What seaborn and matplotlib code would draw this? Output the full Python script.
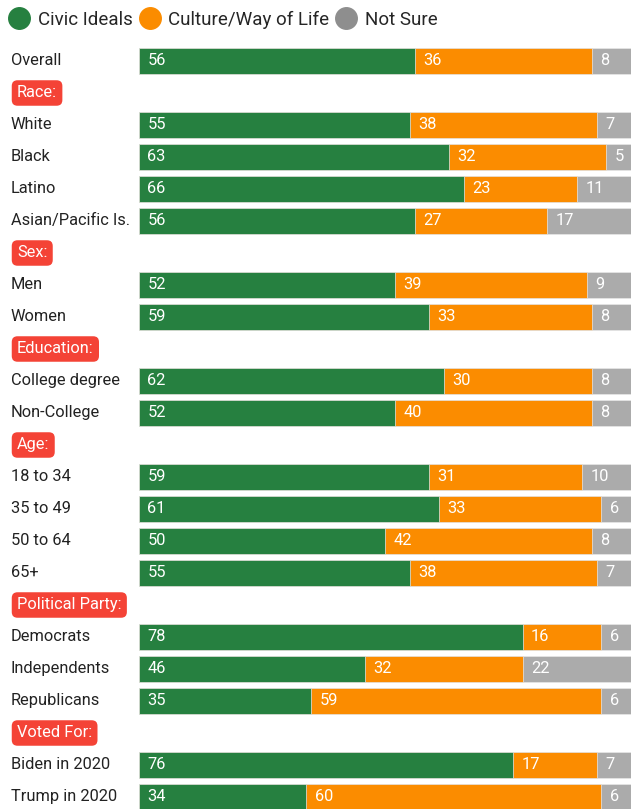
import matplotlib
matplotlib.use("Agg")
import matplotlib.pyplot as plt
import matplotlib.transforms as mtransforms
from matplotlib.lines import Line2D
import seaborn as sns
import pandas as pd
import numpy as np

sns.set_theme(style="white")
plt.rcParams['font.family'] = ['Roboto', 'DejaVu Sans']

rows = ["Overall", "Race:", "White", "Black", "Latino", "Asian/Pacific Is.",
        "Sex:", "Men", "Women", "Education:", "College degree", "Non-College",
        "Age:", "18 to 34", "35 to 49", "50 to 64", "65+",
        "Political Party:", "Democrats", "Independents", "Republicans",
        "Voted For:", "Biden in 2020", "Trump in 2020"]
headers = ["Race:", "Sex:", "Education:", "Age:", "Political Party:", "Voted For:"]

groups = ["Overall", "White", "Black", "Latino", "Asian/Pacific Is.", "Men", "Women",
          "College degree", "Non-College", "18 to 34", "35 to 49", "50 to 64", "65+",
          "Democrats", "Independents", "Republicans", "Biden in 2020", "Trump in 2020"]
civic = [56, 55, 63, 66, 56, 52, 59, 62, 52, 59, 61, 50, 55, 78, 46, 35, 76, 34]
culture = [36, 38, 32, 23, 27, 39, 33, 30, 40, 31, 33, 42, 38, 16, 32, 59, 17, 60]
not_sure = [8, 7, 5, 11, 17, 9, 8, 8, 8, 10, 6, 8, 7, 6, 22, 6, 7, 6]

series = ["Civic Ideals", "Culture/Way of Life", "Not Sure"]
colors = ["#268040", "#FB8C00", "#ABABAB"]
legend_colors = ["#268040", "#FB8C00", "#8E8E8E"]

df = pd.DataFrame({"group": groups, "civic": civic, "culture": culture, "not_sure": not_sure})
df["c1"] = df["civic"]
df["c2"] = df["civic"] + df["culture"]
df["c3"] = df["c2"] + df["not_sure"]

W, H = 631, 809
fig = plt.figure(figsize=(W / 100, H / 100), dpi=100)
top_px, bot_px = 45, 809
left_px = 139
ax = fig.add_axes([left_px / W, 1 - bot_px / H, 1 - left_px / W, (bot_px - top_px) / H])

for col, c in zip(["c3", "c2", "c1"], colors[::-1]):
    sns.barplot(data=df, y="group", x=col, order=rows, color=c, width=0.84,
                orient="h", ax=ax, saturation=1, edgecolor="#e8e8e8", linewidth=0.5)

nrows_visible = (bot_px - top_px) / 32
ax.set_ylim(-0.5 + nrows_visible, -0.5)
ax.set_xlim(0, 100)
ax.axis("off")

pos = {r: i for i, r in enumerate(rows)}
for _, r in df.iterrows():
    y = pos[r["group"]]
    starts = [0, r["c1"], r["c2"]]
    vals = [r["civic"], r["culture"], r["not_sure"]]
    for s, v in zip(starts, vals):
        ax.text(s + 1.7, y, f"{int(v)}", color="white", fontsize=11.8,
                va="center", ha="left")

trans = mtransforms.blended_transform_factory(fig.transFigure, ax.transData)
for r in rows:
    y = pos[r]
    if r in headers:
        ax.text(17 / W, y, r, transform=trans, color="white", fontsize=11.8,
                va="center", ha="left",
                bbox=dict(boxstyle="round,pad=0.32,rounding_size=0.35",
                          fc="#F44336", ec="none"))
    else:
        ax.text(11 / W, y, r, transform=trans, color="#222222", fontsize=11.8,
                va="center", ha="left")

handles = [Line2D([0], [0], marker="o", linestyle="none", markersize=15.5,
                  markerfacecolor=c, markeredgecolor=c) for c in legend_colors]
fig.legend(handles, series, loc="center left", bbox_to_anchor=(9 / W, 1 - 20 / H),
           ncol=3, frameon=False, fontsize=13.5, handletextpad=0.45,
           columnspacing=0.35, borderaxespad=0, borderpad=0, handlelength=1.1)

fig.savefig("out.png", dpi=100)
